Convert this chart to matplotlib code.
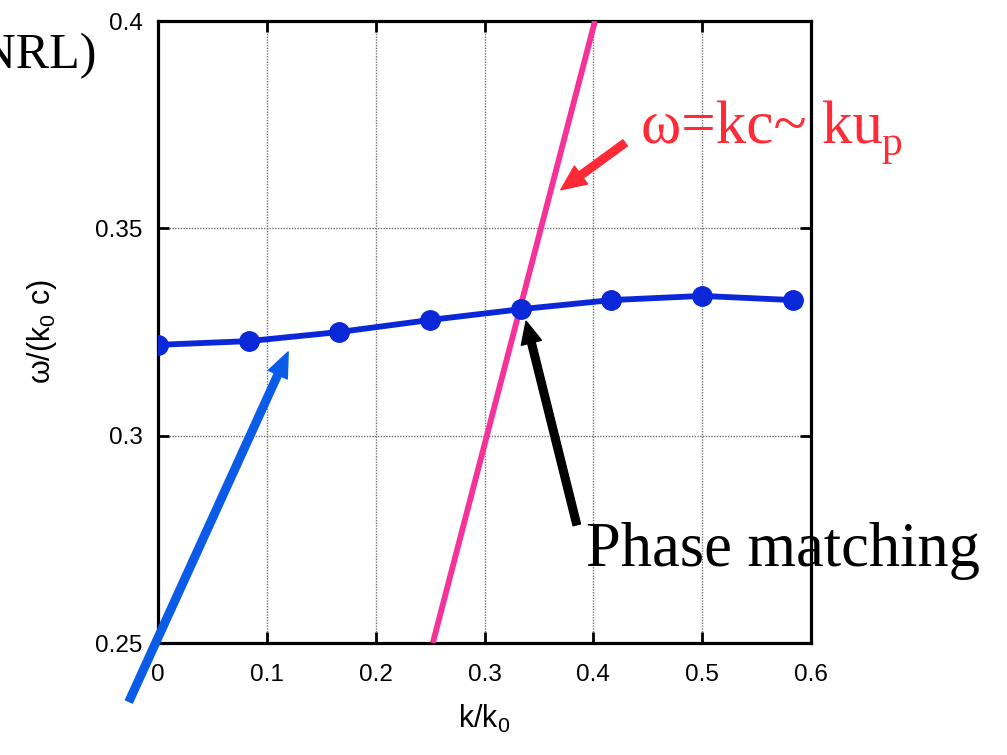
import numpy as np
import matplotlib.pyplot as plt

plt.rcParams['font.family'] = ['Liberation Sans', 'DejaVu Sans']
plt.rcParams['mathtext.fontset'] = 'custom'
plt.rcParams['mathtext.rm'] = 'Liberation Sans'
plt.rcParams['mathtext.it'] = 'Liberation Sans'
plt.rcParams['mathtext.default'] = 'regular'

# dispersion of the wave (blue points)
k = np.array([0.0, 1/12., 2/12., 3/12., 4/12., 5/12., 6/12., 7/12.])
w = np.array([0.3219, 0.3228, 0.3250, 0.3279, 0.3305, 0.3327, 0.3337, 0.3327])
# light line omega = k c
k_light = np.array([0.2525, 0.4015])
w_light = np.array([0.25, 0.40])

xticks = [0, 0.1, 0.2, 0.3, 0.4, 0.5, 0.6]
xticklabels = ['0', '0.1', '0.2', '0.3', '0.4', '0.5', '0.6']
yticks = [0.25, 0.3, 0.35, 0.4]
yticklabels = ['0.25', '0.3', '0.35', '0.4']

fig = plt.figure(figsize=(10.07, 7.55), dpi=100)
ax = fig.add_axes([158/1007., 1-643/755., (811-158)/1007., (643-21)/755.])

ax.plot(k_light, w_light, color='#F5329A', lw=4.2, solid_capstyle='butt', zorder=3)
ax.plot(k, w, color='#0A28D8', lw=4.2, marker='o', ms=14, zorder=4)

ax.set_xlim(0, 0.6)
ax.set_ylim(0.25, 0.4)
ax.set_xticks(xticks)
ax.set_xticklabels(xticklabels)
ax.set_yticks(yticks)
ax.set_yticklabels(yticklabels)
ax.tick_params(direction='in', length=8, width=2, top=True, right=True, labelsize=17.5)
ax.tick_params(axis='x', pad=15)
ax.tick_params(axis='y', pad=11)
for s in ax.spines.values():
    s.set_linewidth(2.3)
ax.grid(True, color='#707070', lw=1.0, ls=(0, (1, 1)))

ax.set_xlabel(r'k/k$_0$', fontsize=22, labelpad=12)
ax.set_ylabel(r'ω/(k$_0$ c)', fontsize=22, labelpad=26)

# arrows
ax.annotate('', xy=(0.1196, 0.3202), xytext=(-0.0267, 0.2359),
            arrowprops=dict(color='#0A5CE8', width=5.5, headwidth=15, headlength=18, shrink=0),
            annotation_clip=False, zorder=5)
ax.annotate('', xy=(0.3382, 0.3276), xytext=(0.3848, 0.2785),
            arrowprops=dict(color='black', width=5.5, headwidth=15, headlength=16, shrink=0),
            annotation_clip=False, zorder=5)
ax.annotate('', xy=(0.3701, 0.3593), xytext=(0.4292, 0.3706),
            arrowprops=dict(color='#FF2A35', width=5.5, headwidth=16, headlength=18, shrink=0),
            annotation_clip=False, zorder=5)

# texts
fig.text(97/1007., 1-68/755., '(NRL)', ha='right', va='baseline',
         fontsize=36, family='Liberation Serif')
fig.text(641/1007., 1-143/755., 'ω=kc~ ku', ha='left', va='baseline',
         fontsize=44, family='Liberation Serif', color='#FF2A35')
fig.text(881/1007., 1-155/755., 'p', ha='left', va='baseline',
         fontsize=30, family='Liberation Serif', color='#FF2A35')
fig.text(586/1007., 1-566/755., 'Phase matching', ha='left', va='baseline',
         fontsize=45, family='Liberation Serif')

fig.savefig('out.png', dpi=100)
